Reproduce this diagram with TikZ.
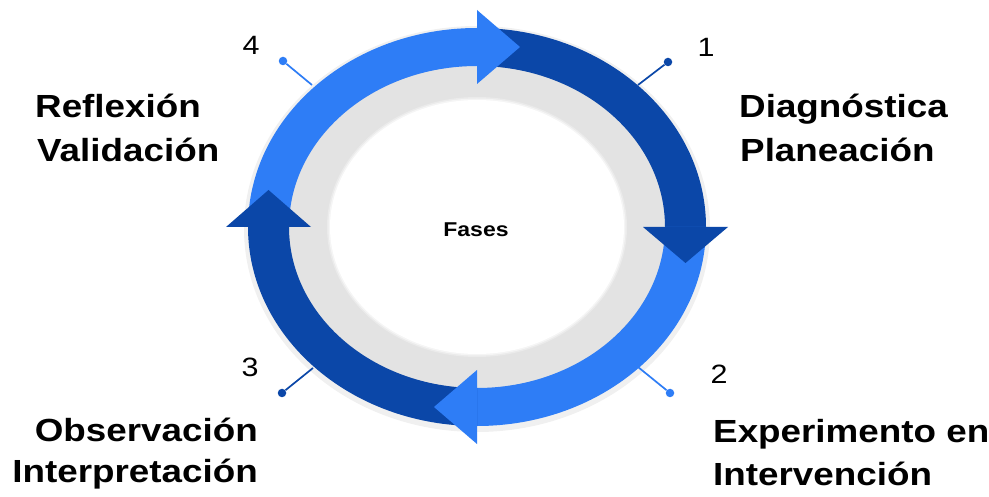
\documentclass[tikz,border=0pt]{standalone}
\usepackage{fontspec}
\setmainfont{Liberation Sans}[FakeStretch=1.15]
\usetikzlibrary{calc}
\definecolor{darkblue}{HTML}{0B47A8}
\definecolor{lightblue}{HTML}{2E7DF6}
\definecolor{ringgray}{HTML}{E3E3E3}
\newcommand\ringband[3]{%
  \fill[#1] ($(C)+(#2:229 and 199)$)
    arc[start angle=#2, end angle=#3, x radius=229, y radius=199]
    -- ($(C)+(#3:188 and 161)$)
    arc[start angle=#3, end angle=#2, x radius=188, y radius=161] -- cycle;}
\begin{document}
\begin{tikzpicture}[x=1pt,y=1pt,
  lbl/.style={inner sep=0pt, font=\fontsize{32}{38}\selectfont\bfseries},
  num/.style={inner sep=0pt, font=\fontsize{26.5}{30}\selectfont},
  pindot/.style={circle, inner sep=0pt, minimum size=8.5pt, fill=#1},
  pinline/.style={draw=#1, line width=1.7pt}]
\useasboundingbox[fill=white] (0,0) rectangle (989,496);
\coordinate (C) at (477,269);
% gray ring and white centre
\fill[black, opacity=0.06] ($(C)+(0,-2)$) ellipse[x radius=233, y radius=203];
\fill[ringgray] (C) ellipse[x radius=200, y radius=172];
\fill[black, opacity=0.05] (C) ellipse[x radius=191, y radius=164];
\fill[ringgray] (C) ellipse[x radius=188, y radius=161];
\fill[ringgray!70] (C) ellipse[x radius=150, y radius=130];
\fill[ringgray!35] (C) ellipse[x radius=148.5, y radius=128.5];
\fill[white] (C) ellipse[x radius=147, y radius=127];
% bands
\ringband{darkblue}{90}{0}
\ringband{lightblue}{0}{-90}
\ringband{darkblue}{-90}{-180}
\ringband{lightblue}{180}{90}
% arrowheads
\fill[darkblue] (643,269) -- (728,269) -- (685.5,233) -- cycle;
\fill[lightblue] (477,126) -- (477,52) -- (434,89) -- cycle;
\fill[darkblue] (226,269) -- (311,269) -- (268.5,306) -- cycle;
\fill[lightblue] (477,486) -- (477,412) -- (520,449) -- cycle;
% pins
\node[pindot=lightblue] (p4) at (283,435) {};
\coordinate (e4) at (312,411);
\draw[pinline=lightblue] (p4) -- (e4);
\node[pindot=darkblue] (p1) at (668,434) {};
\coordinate (e1) at (638,411);
\draw[pinline=darkblue] (p1) -- (e1);
\node[pindot=darkblue] (p3) at (282,103) {};
\coordinate (e3) at (313,128);
\draw[pinline=darkblue] (p3) -- (e3);
\node[pindot=lightblue] (p2) at (670,103) {};
\coordinate (e2) at (638,129);
\draw[pinline=lightblue] (p2) -- (e2);
% numbers
\node[num, anchor=base] (n4) at (251,441) {4};
\node[num, anchor=base] (n1) at (706,439) {1};
\node[num, anchor=base] (n3) at (250,119) {3};
\node[num, anchor=base] (n2) at (719,112) {2};
% centre
\node[inner sep=0pt, font=\fontsize{20}{24}\selectfont\bfseries, anchor=base] (fases) at (476,259) {Fases};
% labels
\node[lbl, anchor=base west] (l4a) at (35,378) {Reflexión};
\node[lbl, anchor=base west] (l4b) at (37,334) {Validación};
\node[lbl, anchor=base west] (l1a) at (739,378) {Diagnóstica};
\node[lbl, anchor=base west] (l1b) at (740,334) {Planeación};
\node[lbl, anchor=base east] (l3a) at (258,55) {Observación};
\node[lbl, anchor=base east] (l3b) at (258,14) {Interpretación};
\node[lbl, anchor=base west] (l2a) at (713,53) {Experimento en};
\node[lbl, anchor=base west] (l2b) at (713,11) {Intervención};
\end{tikzpicture}
\end{document}
